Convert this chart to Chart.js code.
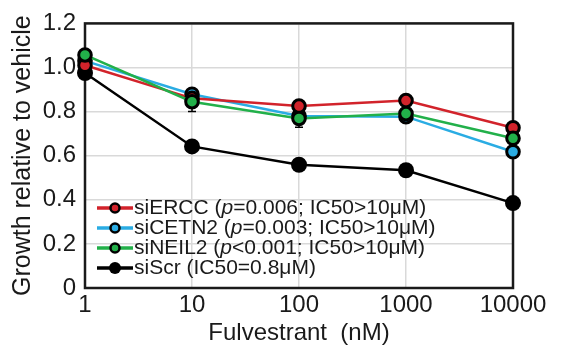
<!DOCTYPE html>
<html>
<head>
<meta charset="utf-8">
<script src="https://cdn.jsdelivr.net/npm/chart.js@4.4.0/dist/chart.umd.min.js"></script>
<style>
html,body{margin:0;padding:0;background:#fff;}
#wrap{position:relative;width:563px;height:353px;}
</style>
</head>
<body>
<div id="wrap"><canvas id="c" width="563" height="353"></canvas></div>
<script>
// ---- data ----
const doses = [1, 10, 100, 1000, 10000];
const xTicks = [1, 10, 100, 1000, 10000];
const yTicks = [0, 0.2, 0.4, 0.6, 0.8, 1.0, 1.2];
const seriesLabels = [
  'siERCC (p=0.006; IC50>10\u03bcM)',
  'siCETN2 (p=0.003; IC50>10\u03bcM)',
  'siNEIL2 (p<0.001; IC50>10\u03bcM)',
  'siScr (IC50=0.8\u03bcM)'
];
const siERCC  = [1.01, 0.86, 0.825, 0.85, 0.727];
const siCETN2 = [1.03, 0.879, 0.78, 0.777, 0.618];
const siNEIL2 = [1.057, 0.845, 0.769, 0.791, 0.679];
const siScr   = [0.975, 0.642, 0.559, 0.534, 0.385];
const errERCC  = [0.02, 0.02, 0.02, 0.02, 0.02];
const errCETN2 = [0.02, 0.025, 0.02, 0.02, 0.02];
const errNEIL2 = [0.02, 0.045, 0.04, 0.02, 0.02];
const errScr   = [0.02, 0.02, 0.02, 0.02, 0.02];

const colors = ['#d2232b', '#2aace3', '#22b04a', '#000000'];
const seriesValues = [siERCC, siCETN2, siNEIL2, siScr];
const seriesErrors = [errERCC, errCETN2, errNEIL2, errScr];
const drawOrder = [1, 2, 0, 3];

const FONT = '"Liberation Sans", Arial, Helvetica, sans-serif';

const datasets = seriesValues.map((vals, i) => ({
  label: seriesLabels[i],
  data: doses.map((d, j) => ({x: d, y: vals[j]})),
  errors: seriesErrors[i],
  borderColor: colors[i],
  backgroundColor: colors[i],
  borderWidth: 2.5,
  pointRadius: i === 3 ? 8 : 6.3,
  pointBorderWidth: i === 3 ? 0 : 3,
  pointBorderColor: '#000',
  pointBackgroundColor: colors[i],
  pointHoverRadius: 8,
  clip: false,
  order: drawOrder[i],
  tension: 0
}));

const framePlugin = {
  id: 'frame',
  beforeDatasetsDraw(chart) {
    const {ctx, chartArea: a} = chart;
    ctx.save();
    ctx.strokeStyle = '#1a1a1a';
    ctx.lineWidth = 2.5;
    ctx.strokeRect(a.left, a.top, a.right - a.left, a.bottom - a.top);
    // error bars
    ctx.strokeStyle = '#000';
    ctx.lineWidth = 1.5;
    const xs = chart.scales.x, ys = chart.scales.y;
    chart.data.datasets.forEach(ds => {
      ds.data.forEach((p, j) => {
        const e = ds.errors[j];
        const px = xs.getPixelForValue(p.x);
        const y1 = ys.getPixelForValue(p.y - e), y2 = ys.getPixelForValue(p.y + e);
        ctx.beginPath();
        ctx.moveTo(px, y1); ctx.lineTo(px, y2);
        ctx.moveTo(px - 4, y1); ctx.lineTo(px + 4, y1);
        ctx.moveTo(px - 4, y2); ctx.lineTo(px + 4, y2);
        ctx.stroke();
      });
    });
    ctx.restore();
  },
  afterDraw(chart) {
    const {ctx} = chart;
    ctx.save();
    const x0 = 97, x1 = 133, tx = 134;
    const rowY = [208, 228, 248, 268];
    const fs = 21;
    chart.data.datasets.forEach((ds, i) => {
      const y = rowY[i];
      ctx.strokeStyle = colors[i];
      ctx.lineWidth = 3.5;
      ctx.beginPath(); ctx.moveTo(x0, y); ctx.lineTo(x1, y); ctx.stroke();
      ctx.beginPath();
      ctx.arc((x0 + x1) / 2, y, i === 3 ? 6 : 4.5, 0, Math.PI * 2);
      ctx.fillStyle = colors[i];
      ctx.fill();
      if (i !== 3) { ctx.lineWidth = 2.5; ctx.strokeStyle = '#000'; ctx.stroke(); }
      // text with italic p
      ctx.fillStyle = '#1a1a1a';
      ctx.textBaseline = 'middle';
      ctx.textAlign = 'left';
      const label = ds.label;
      const m = label.match(/^(.*\()p([=<].*)$/);
      let x = tx;
      if (m) {
        ctx.font = fs + 'px ' + FONT;
        ctx.fillText(m[1], x, y); x += ctx.measureText(m[1]).width;
        ctx.font = 'italic ' + fs + 'px ' + FONT;
        ctx.fillText('p', x, y); x += ctx.measureText('p').width;
        ctx.font = fs + 'px ' + FONT;
        ctx.fillText(m[2], x, y);
      } else {
        ctx.font = fs + 'px ' + FONT;
        ctx.fillText(label, x, y);
      }
    });
    ctx.restore();
  }
};

new Chart(document.getElementById('c'), {
  type: 'line',
  data: {datasets},
  plugins: [framePlugin],
  options: {
    responsive: false,
    animation: false,
    devicePixelRatio: 1,
    layout: {padding: {top: 16, right: 50, left: 0, bottom: 0}},
    plugins: {legend: {display: false}, tooltip: {enabled: false}},
    scales: {
      x: {
        type: 'logarithmic',
        min: 1, max: 10000,
        afterBuildTicks(s) { s.ticks = xTicks.map(v => ({value: v})); },
        afterFit(s) { s.height = 65; },
        ticks: {
          color: '#1a1a1a', font: {family: FONT, size: 24}, padding: 3,
          maxRotation: 0, autoSkip: false,
          callback: v => String(v)
        },
        grid: {color: '#d9d9d9', lineWidth: 1.5, drawTicks: false},
        border: {display: false},
        title: {display: true, text: 'Fulvestrant  (nM)', color: '#1a1a1a',
          font: {family: FONT, size: 24}, padding: {top: 0, bottom: 5}}
      },
      y: {
        min: 0, max: 1.2,
        afterBuildTicks(s) { s.ticks = yTicks.map(v => ({value: v})); },
        afterFit(s) { s.width = 85; },
        ticks: {
          color: '#1a1a1a', font: {family: FONT, size: 24}, padding: 9,
          callback: v => (v === 0 ? '0' : v.toFixed(1))
        },
        grid: {color: '#d9d9d9', lineWidth: 1.5, drawTicks: false},
        border: {display: false},
        title: {display: true, text: 'Growth relative to vehicle', color: '#1a1a1a',
          font: {family: FONT, size: 25}, padding: {top: 8, bottom: 0}}
      }
    }
  }
});
</script>
</body>
</html>
